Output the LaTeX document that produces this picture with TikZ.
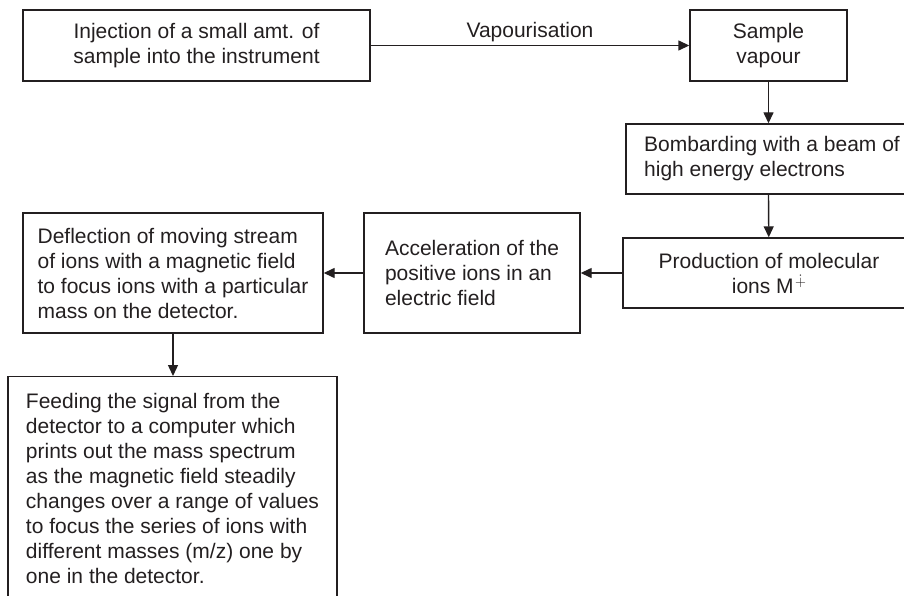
\documentclass[tikz,border=0pt]{standalone}
\usepackage{fontspec}
\setmainfont{Liberation Sans}
\usetikzlibrary{arrows.meta}
\definecolor{inkgray}{HTML}{231F20}
\tikzset{
  procbox/.style={draw=inkgray, line width=1.4pt, text=inkgray},
  flow/.style={draw=inkgray, line width=1.4pt, -{Triangle[length=11pt,width=10pt]}}
}
\begin{document}
\begin{tikzpicture}[x=1pt,y=-1pt,font=\fontsize{21}{25}\selectfont]
\useasboundingbox (0,0) rectangle (904,596);
\clip (0,0) rectangle (904,596);
\node[procbox,minimum width=347pt,minimum height=71pt,align=center] (inject) at (196.5,45.5) {Injection of a small amt. of\\sample into the instrument};
\node[procbox,minimum width=157pt,minimum height=71pt,align=center] (vapour) at (768.5,45.5) {Sample\\vapour};
\node[procbox,minimum width=292pt,minimum height=70pt,align=left] (bombard) at (772,159) {Bombarding with a beam of\\high energy electrons};
\node[procbox,minimum width=292pt,minimum height=70pt,align=center] (produce) at (769,273) {Production of molecular\\ions M\kern1.5pt\raisebox{0.6ex}{\fontsize{14}{14}\selectfont$\dot{\mathbf{+}}$}};
\node[procbox,minimum width=216pt,minimum height=120pt,align=left] (accel) at (472,273) {Acceleration of the\\positive ions in an\\electric field};
\node[procbox,minimum width=300pt,minimum height=120pt,align=left] (deflect) at (173,273) {Deflection of moving stream\\of ions with a magnetic field\\to focus ions with a particular\\mass on the detector.};
\node[procbox,anchor=north,minimum width=329pt,inner ysep=17pt,text depth=40pt,align=left] (feed) at (172.5,376) {Feeding the signal from the\\detector to a computer which\\prints out the mass spectrum\\as the magnetic field steadily\\changes over a range of values\\to focus the series of ions with\\different masses (m/z) one by\\one in the detector.};
\draw[flow] (inject) -- node[midway,above,text=inkgray] (vaplabel) {Vapourisation} (vapour);
\draw[flow] (vapour.south) -- (vapour.south |- bombard.north);
\draw[flow] (vapour.south |- bombard.south) -- (produce);
\draw[flow] (produce) -- (accel);
\draw[flow] (accel) -- (deflect);
\draw[flow] (deflect.south) -- (deflect.south |- feed.north);
\end{tikzpicture}
\end{document}
